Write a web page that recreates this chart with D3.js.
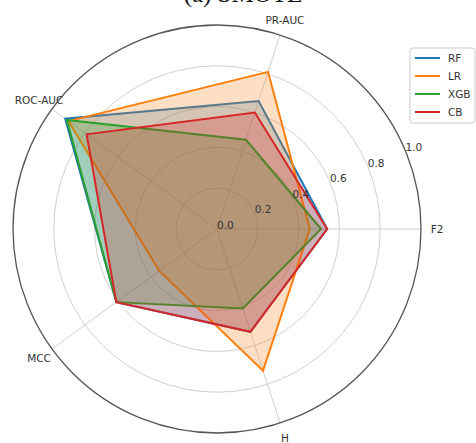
<!DOCTYPE html>
<html>
<head>
<meta charset="utf-8">
<script src="https://cdn.jsdelivr.net/npm/d3@7"></script>
<style>
  body { margin: 0; background: #fff; }
  svg { display: block; font-family: "DejaVu Sans", sans-serif; }
</style>
</head>
<body>
<div class="canvas"></div>
<script>
const categories = ['F2', 'PR-AUC', 'ROC-AUC', 'MCC', 'H']
const models = ['RF', 'LR', 'XGB', 'CB']
const rfValues = [0.54, 0.66, 0.92, 0.61, 0.53]
const lrValues = [0.455, 0.81, 0.90, 0.35, 0.73]
const xgbValues = [0.51, 0.46, 0.91, 0.61, 0.41]
const cbValues = [0.54, 0.60, 0.79, 0.61, 0.53]
const radialTicks = [0.0, 0.2, 0.4, 0.6, 0.8, 1.0]
const colors = ['#1f77b4', '#ff7f0e', '#2ca02c', '#d62728']

const seriesValues = [rfValues, lrValues, xgbValues, cbValues]

const width = 476
const height = 443
const cx = 217, cy = 229, R = 204

const svg = d3.select('.canvas')
    .append('svg')
    .attr('width', width)
    .attr('height', height)

// title, mostly cut off at the top (as in the source image)
svg.append('text')
    .attr('x', 243)
    .attr('y', 2)
    .attr('text-anchor', 'middle')
    .attr('font-family', '"Liberation Serif", serif')
    .attr('font-size', 25)
    .attr('fill', '#111')
    .text('(a) SMOTE')

const graph = svg.append('g')
    .attr('transform', `translate(${cx}, ${cy})`)

const rScale = d3.scaleLinear().domain([0, 1]).range([0, R])
// d3 radial angle: 0 at 12 o'clock, clockwise; first axis points right
const angle = i => Math.PI / 2 - i * 2 * Math.PI / categories.length

// grid circles
graph.selectAll('.grid')
    .data(radialTicks.filter(t => t > 0 && t < 1))
    .enter()
    .append('circle')
    .attr('r', d => rScale(d))
    .attr('fill', 'none')
    .attr('stroke', '#d0d0d0')
    .attr('stroke-width', 1)

// spokes
graph.selectAll('.spoke')
    .data(categories)
    .enter()
    .append('line')
    .attr('x1', 0).attr('y1', 0)
    .attr('x2', (d, i) => rScale(1) * Math.sin(angle(i)))
    .attr('y2', (d, i) => -rScale(1) * Math.cos(angle(i)))
    .attr('stroke', '#d0d0d0')
    .attr('stroke-width', 1)

const lineGenerator = d3.lineRadial()
    .angle((d, i) => angle(i))
    .radius(d => rScale(d))
    .curve(d3.curveLinearClosed)

seriesValues.forEach((vals, k) => {
    graph.append('path')
        .datum(vals)
        .attr('d', lineGenerator)
        .attr('fill', colors[k])
        .attr('fill-opacity', 0.25)
        .attr('stroke', colors[k])
        .attr('stroke-width', 2)
        .attr('stroke-linejoin', 'miter')
})

// outer spine
graph.append('circle')
    .attr('r', rScale(1))
    .attr('fill', 'none')
    .attr('stroke', '#555')
    .attr('stroke-width', 1.3)

// radial tick labels at 22.5 degrees
const labAng = 22.5 * Math.PI / 180
graph.selectAll('.rlab')
    .data(radialTicks)
    .enter()
    .append('text')
    .attr('x', d => rScale(d) * Math.cos(labAng))
    .attr('y', d => -rScale(d) * Math.sin(labAng))
    .attr('font-size', 10.5)
    .attr('fill', '#333')
    .text(d => d.toFixed(1))

// category labels
graph.selectAll('.clab')
    .data(categories)
    .enter()
    .append('text')
    .attr('x', (d, i) => (R + 16) * Math.sin(angle(i)))
    .attr('y', (d, i) => -(R + 16) * Math.cos(angle(i)))
    .attr('text-anchor', 'middle')
    .attr('dominant-baseline', 'central')
    .attr('font-size', 10.5)
    .attr('fill', '#333')
    .text(d => d)

// legend
const legend = svg.append('g').attr('transform', 'translate(410, 48)')
legend.append('rect')
    .attr('width', 65).attr('height', 75)
    .attr('rx', 3)
    .attr('fill', '#fff')
    .attr('fill-opacity', 0.8)
    .attr('stroke', '#ccc')

models.forEach((m, k) => {
    const y = 10 + k * 18
    legend.append('line')
        .attr('x1', 5).attr('x2', 30)
        .attr('y1', y).attr('y2', y)
        .attr('stroke', colors[k])
        .attr('stroke-width', 2)
    legend.append('text')
        .attr('x', 38).attr('y', y)
        .attr('dominant-baseline', 'central')
        .attr('font-size', 10.5)
        .attr('fill', '#333')
        .text(m)
})
</script>
</body>
</html>
